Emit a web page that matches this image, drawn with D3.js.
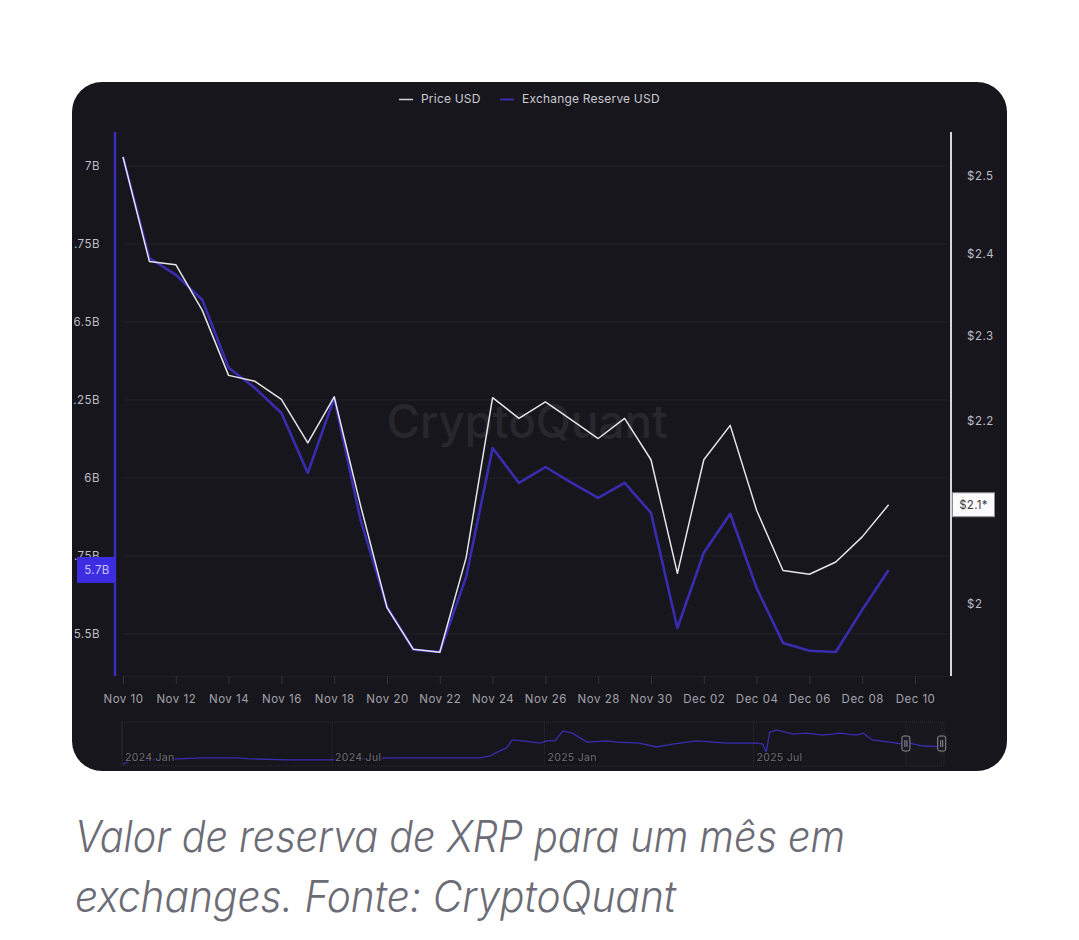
<!DOCTYPE html>
<html>
<head>
<meta charset="utf-8">
<script src="https://cdn.jsdelivr.net/npm/d3@7"></script>
<style>
  html, body { margin: 0; padding: 0; background: #ffffff; }
  svg { display: block; }
</style>
</head>
<body>
<svg id="chart" width="1079" height="940"></svg>
<script>
// ---------- data ----------
const dates = ["2025-11-10","2025-11-11","2025-11-12","2025-11-13","2025-11-14","2025-11-15","2025-11-16","2025-11-17","2025-11-18","2025-11-19","2025-11-20","2025-11-21","2025-11-22","2025-11-23","2025-11-24","2025-11-25","2025-11-26","2025-11-27","2025-11-28","2025-11-29","2025-11-30","2025-12-01","2025-12-02","2025-12-03","2025-12-04","2025-12-05","2025-12-06","2025-12-07","2025-12-08","2025-12-09"];
const priceUSD = [2.525, 2.391, 2.387, 2.331, 2.253, 2.246, 2.225, 2.175, 2.228, 2.105, 1.996, 1.953, 1.950, 2.049, 2.227, 2.203, 2.222, 2.201, 2.180, 2.203, 2.156, 2.032, 2.156, 2.195, 2.100, 2.035, 2.031, 2.044, 2.071, 2.106];
const reserveB = [7.029, 6.705, 6.651, 6.571, 6.353, 6.288, 6.208, 6.016, 6.256, 5.865, 5.587, 5.449, 5.442, 5.683, 6.096, 5.984, 6.035, 5.984, 5.936, 5.984, 5.888, 5.519, 5.760, 5.885, 5.647, 5.471, 5.446, 5.442, 5.577, 5.705];

const xTickDates = ["2025-11-10","2025-11-12","2025-11-14","2025-11-16","2025-11-18","2025-11-20","2025-11-22","2025-11-24","2025-11-26","2025-11-28","2025-11-30","2025-12-02","2025-12-04","2025-12-06","2025-12-08","2025-12-10"];
const leftTicks = [5.5, 5.75, 6, 6.25, 6.5, 6.75, 7];
const leftTickLabels = ["5.5B", "5.75B", "6B", "6.25B", "6.5B", "6.75B", "7B"];
const rightTicks = [2, 2.2, 2.3, 2.4, 2.5];
const rightTickLabels = ["$2", "$2.2", "$2.3", "$2.4", "$2.5"];
const legendLabels = ["Price USD", "Exchange Reserve USD"];
const lastReserveLabel = "5.7B";
const lastPriceLabel = "$2.1*";
const watermark = "CryptoQuant";

// navigator (history of exchange reserve, billions USD)
const navDates = ["2024-01-02","2024-01-08","2024-01-25","2024-02-20","2024-03-09","2024-04-10","2024-04-21","2024-05-25","2024-06-29","2024-07-25","2024-08-20","2024-09-18","2024-11-06","2024-11-15","2024-11-21","2024-11-29","2024-12-04","2024-12-13","2024-12-28","2025-01-03","2025-01-10","2025-01-17","2025-01-25","2025-02-07","2025-02-24","2025-03-05","2025-03-24","2025-04-08","2025-04-22","2025-05-13","2025-06-08","2025-07-04","2025-07-09","2025-07-12","2025-07-15","2025-07-21","2025-08-04","2025-08-16","2025-08-30","2025-09-14","2025-09-28","2025-10-04","2025-10-12","2025-10-27","2025-11-05","2025-11-10","2025-11-25","2025-12-09"];
const navValues = [0.3, 1.2, 1.6, 1.9, 2.2, 2.2, 1.9, 1.6, 1.6, 1.9, 2.2, 2.2, 2.2, 2.8, 4.0, 5.3, 7.8, 7.5, 6.8, 7.5, 7.5, 10.6, 9.9, 7.1, 7.5, 7.1, 6.8, 5.6, 6.5, 7.5, 6.8, 6.8, 6.5, 4.0, 10.2, 10.9, 9.6, 9.9, 9.3, 9.9, 9.3, 9.9, 7.8, 7.1, 6.6, 7.0, 5.9, 5.7];
const navTickDates = ["2024-01-01", "2024-07-01", "2025-01-01", "2025-07-01"];
const navTickLabels = ["2024 Jan", "2024 Jul", "2025 Jan", "2025 Jul"];
const navSelection = ["2025-11-10", "2025-12-11"];

const caption = ["Valor de reserva de XRP para um mês em", "exchanges. Fonte: CryptoQuant"];

// ---------- drawing ----------
const parse = d3.utcParse("%Y-%m-%d");
const svg = d3.select("#chart");
const FONT = "Inter, 'Noto Sans', 'DejaVu Sans', sans-serif";

const card = {x: 72, y: 82, w: 935, h: 689, r: 30};
const defs = svg.append("defs");
defs.append("clipPath").attr("id", "cardClip")
  .append("rect").attr("x", card.x).attr("y", card.y).attr("width", card.w).attr("height", card.h).attr("rx", card.r);
defs.append("clipPath").attr("id", "leftLabClip")
  .append("rect").attr("x", 74).attr("y", 120).attr("width", 60).attr("height", 570);

svg.append("rect").attr("x", card.x).attr("y", card.y).attr("width", card.w).attr("height", card.h)
  .attr("rx", card.r).attr("fill", "#17161c");

const g = svg.append("g").attr("clip-path", "url(#cardClip)");

const plot = {left: 123, right: 948, top: 132, bottom: 676};
const x = d3.scaleUtc().domain([parse("2025-11-10"), parse("2025-12-10")]).range([123, 915]);
const yL = d3.scaleLinear().domain([5.365, 7.109]).range([plot.bottom, plot.top]);
const yR = d3.scaleLog().domain([1.926, 2.558]).range([plot.bottom, plot.top]);

// gridlines
g.append("g").selectAll("line").data(leftTicks).join("line")
  .attr("x1", plot.left).attr("x2", plot.right)
  .attr("y1", d => yL(d)).attr("y2", d => yL(d))
  .attr("stroke", "#24232a").attr("stroke-width", 1);

// watermark
g.append("text").attr("x", 527).attr("y", 438).attr("text-anchor", "middle")
  .attr("font-family", FONT).attr("font-size", 46).attr("font-weight", 500)
  .attr("fill", "#28272e").attr("textLength", 281).attr("lengthAdjust", "spacingAndGlyphs")
  .text(watermark);

const styleTicks = sel => sel.attr("fill", "#a3a3ab").attr("font-size", 11.5)
  .attr("font-family", FONT).attr("letter-spacing", "0.5px");

// x axis
const xAxis = d3.axisBottom(x).tickValues(xTickDates.map(parse)).tickFormat(d3.utcFormat("%b %d")).tickSize(8).tickPadding(11);
const xg = g.append("g").attr("transform", `translate(0,${plot.bottom})`).call(xAxis);
xg.select(".domain").attr("stroke", "#2a2930").attr("stroke-dasharray", "1,1").attr("d", `M${plot.left},0.5H${plot.right}`);
xg.selectAll(".tick line").attr("stroke", "#34333a");
styleTicks(xg.selectAll(".tick text"));

// left axis labels
const lAxis = d3.axisLeft(yL).tickValues(leftTicks).tickFormat((d, i) => leftTickLabels[i]).tickSize(0).tickPadding(0);
const lgWrap = g.append("g").attr("clip-path", "url(#leftLabClip)");
const lg = lgWrap.append("g").attr("transform", "translate(100,0)").call(lAxis);
lg.select(".domain").remove();
styleTicks(lg.selectAll(".tick text")).attr("fill", "#bdbdc5");

// right axis labels
const rAxis = d3.axisRight(yR).tickValues(rightTicks).tickFormat((d, i) => rightTickLabels[i]).tickSize(0).tickPadding(0);
const rg = g.append("g").attr("transform", "translate(967,0)").call(rAxis);
rg.select(".domain").remove();
styleTicks(rg.selectAll(".tick text")).attr("fill", "#bdbdc5");

// axis lines
g.append("line").attr("x1", 115).attr("x2", 115).attr("y1", plot.top).attr("y2", plot.bottom)
  .attr("stroke", "#3a2dbf").attr("stroke-width", 2.5);
g.append("line").attr("x1", 951).attr("x2", 951).attr("y1", plot.top).attr("y2", plot.bottom)
  .attr("stroke", "#d6d6de").attr("stroke-width", 2);

// series
const dts = dates.map(parse);
const lineR = d3.line().x((d, i) => x(dts[i])).y(d => yL(d));
const lineP = d3.line().x((d, i) => x(dts[i])).y(d => yR(d));
g.append("path").datum(reserveB).attr("d", lineR).attr("fill", "none")
  .attr("stroke", "#3a2cb0").attr("stroke-width", 2.6).attr("stroke-linejoin", "round");
g.append("path").datum(priceUSD).attr("d", lineP).attr("fill", "none")
  .attr("stroke", "#e4e4ea").attr("stroke-width", 1.5).attr("stroke-linejoin", "round");

// last value labels
const lastR = yL(reserveB[reserveB.length - 1]);
g.append("rect").attr("x", 77).attr("y", lastR - 13).attr("width", 38).attr("height", 26).attr("fill", "#3d2de2");
g.append("text").attr("x", 97).attr("y", lastR).attr("dy", "0.35em").attr("text-anchor", "middle")
  .attr("font-family", FONT).attr("font-size", 11.5).attr("letter-spacing", "0.4px").attr("fill", "#c9c2ff").text(lastReserveLabel);

const lastP = yR(priceUSD[priceUSD.length - 1]);
g.append("rect").attr("x", 952.5).attr("y", lastP - 12).attr("width", 42).attr("height", 24)
  .attr("fill", "#fbfbfd").attr("stroke", "#8a8a92").attr("stroke-width", 1);
g.append("text").attr("x", 973.5).attr("y", lastP).attr("dy", "0.35em").attr("text-anchor", "middle")
  .attr("font-family", FONT).attr("font-size", 11.5).attr("letter-spacing", "0.3px").attr("fill", "#3a3a40").text(lastPriceLabel);

// legend
const leg = g.append("g").attr("font-family", FONT).attr("font-size", 12).attr("letter-spacing", "0.2px");
leg.append("line").attr("x1", 399).attr("x2", 413).attr("y1", 99.5).attr("y2", 99.5).attr("stroke", "#cfcfd6").attr("stroke-width", 1.5);
leg.append("text").attr("x", 421).attr("y", 99).attr("dy", "0.35em").attr("fill", "#cacad2").text(legendLabels[0]);
leg.append("line").attr("x1", 500).attr("x2", 514).attr("y1", 99.5).attr("y2", 99.5).attr("stroke", "#3a2cb0").attr("stroke-width", 2);
leg.append("text").attr("x", 522).attr("y", 99).attr("dy", "0.35em").attr("fill", "#cacad2").text(legendLabels[1]);

// navigator
const nav = {left: 122, right: 944, top: 722, bottom: 766};
const xN = d3.scaleUtc().domain([parse("2024-01-01"), parse("2025-12-13")]).range([nav.left, nav.right]);
const yN = d3.scaleLinear().domain([0, 11.5]).range([765, 728]);
const ng = g.append("g");
ng.append("rect").attr("x", nav.left).attr("y", nav.top).attr("width", nav.right - nav.left).attr("height", nav.bottom - nav.top)
  .attr("fill", "none").attr("stroke", "#2c2b33").attr("stroke-dasharray", "1,1");
ng.selectAll("line.nt").data(navTickDates).join("line").attr("class", "nt")
  .attr("x1", d => xN(parse(d))).attr("x2", d => xN(parse(d)))
  .attr("y1", nav.top).attr("y2", nav.bottom).attr("stroke", "#2c2b33").attr("stroke-dasharray", "1,1");
// selection frame
ng.append("rect").attr("x", xN(parse(navSelection[0]))).attr("y", nav.top)
  .attr("width", xN(parse(navSelection[1])) - xN(parse(navSelection[0]))).attr("height", nav.bottom - nav.top)
  .attr("fill", "#19181e").attr("stroke", "#2c2b33").attr("stroke-dasharray", "1,1");
const navD = navDates.map(parse);
ng.append("path").datum(navValues).attr("fill", "none").attr("stroke", "#3a2cb0").attr("stroke-width", 1.3)
  .attr("d", d3.line().x((d, i) => xN(navD[i])).y(d => yN(d)));
ng.selectAll("text.nl").data(navTickLabels).join("text").attr("class", "nl")
  .attr("x", (d, i) => xN(parse(navTickDates[i])) + 3).attr("y", 761)
  .attr("font-family", FONT).attr("font-size", 10.5).attr("letter-spacing", "0.3px").attr("fill", "#6f6e76")
  .attr("stroke", "#141318").attr("stroke-width", 2.5).attr("paint-order", "stroke").text(d => d);
// handles
navSelection.forEach(s => {
  const hx = xN(parse(s));
  ng.append("rect").attr("x", hx - 4).attr("y", 736).attr("width", 8).attr("height", 15).attr("rx", 2)
    .attr("fill", "#1c1b21").attr("stroke", "#8d8d95").attr("stroke-width", 1);
  ng.append("line").attr("x1", hx - 1).attr("x2", hx - 1).attr("y1", 740).attr("y2", 747).attr("stroke", "#8d8d95");
  ng.append("line").attr("x1", hx + 1).attr("x2", hx + 1).attr("y1", 740).attr("y2", 747).attr("stroke", "#8d8d95");
});

// caption
const cap = svg.append("g").attr("font-family", FONT).attr("font-size", 43).attr("font-style", "italic")
  .attr("font-weight", 300).attr("fill", "#6c6c76");
cap.append("text").attr("x", 75).attr("y", 852).attr("textLength", 770).attr("lengthAdjust", "spacingAndGlyphs").text(caption[0]);
cap.append("text").attr("x", 75).attr("y", 912).attr("textLength", 601).attr("lengthAdjust", "spacingAndGlyphs").text(caption[1]);
</script>
</body>
</html>
